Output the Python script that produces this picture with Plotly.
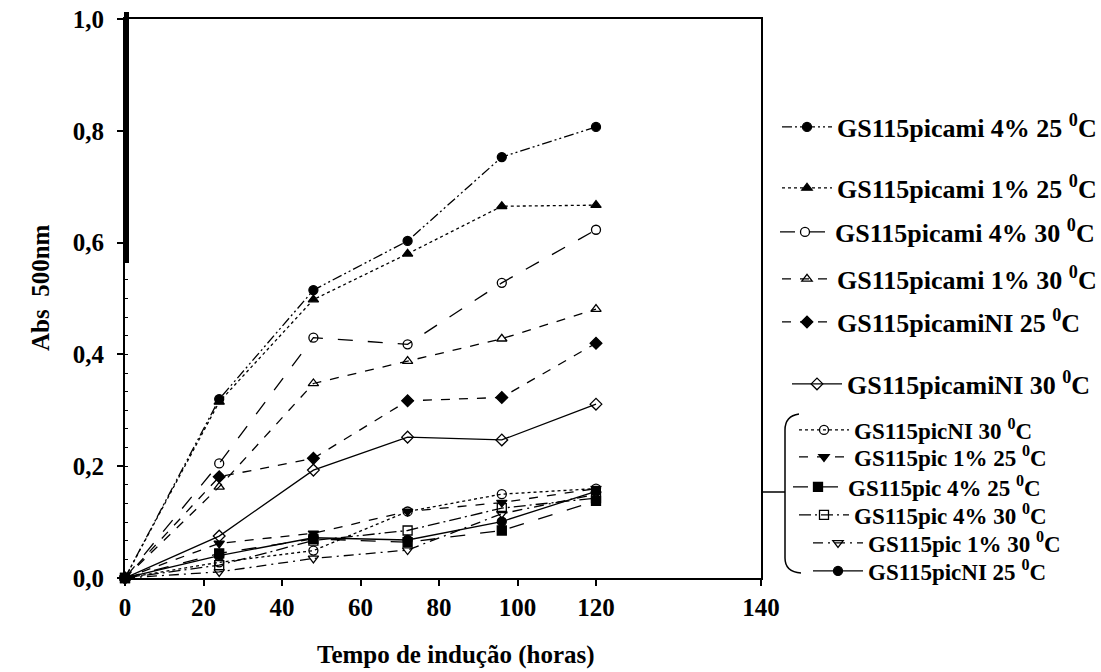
import plotly.graph_objects as go

# ---------------- data ----------------
hours = [0, 24, 48, 72, 96, 120]

picami_4_25 = [0, 0.320, 0.515, 0.603, 0.753, 0.807]
picami_1_25 = [0, 0.315, 0.498, 0.580, 0.665, 0.667]
picami_4_30 = [0, 0.205, 0.430, 0.418, 0.528, 0.623]
picami_1_30 = [0, 0.163, 0.348, 0.388, 0.428, 0.481]
picamiNI_25 = [0, 0.181, 0.214, 0.317, 0.323, 0.420]
picamiNI_30 = [0, 0.075, 0.193, 0.252, 0.247, 0.311]
picNI_30 = [0, 0.028, 0.049, 0.119, 0.150, 0.160]
pic_1_25 = [0, 0.062, 0.080, 0.119, 0.135, 0.160]
pic_4_25 = [0, 0.044, 0.070, 0.064, 0.085, 0.138]
pic_4_30 = [0, 0.023, 0.067, 0.085, 0.125, 0.143]
pic_1_30 = [0, 0.011, 0.035, 0.050, 0.115, 0.150]
picNI_25 = [0, 0.040, 0.072, 0.068, 0.101, 0.155]

names = [
    "GS115picami 4% 25 <sup>0</sup>C",
    "GS115picami 1% 25 <sup>0</sup>C",
    "GS115picami 4% 30 <sup>0</sup>C",
    "GS115picami 1% 30 <sup>0</sup>C",
    "GS115picamiNI 25 <sup>0</sup>C",
    "GS115picamiNI 30 <sup>0</sup>C",
    "GS115picNI 30 <sup>0</sup>C",
    "GS115pic 1% 25 <sup>0</sup>C",
    "GS115pic 4% 25 <sup>0</sup>C",
    "GS115pic 4% 30 <sup>0</sup>C",
    "GS115pic 1% 30 <sup>0</sup>C",
    "GS115picNI 25 <sup>0</sup>C",
]
values = [picami_4_25, picami_1_25, picami_4_30, picami_1_30, picamiNI_25, picamiNI_30,
          picNI_30, pic_1_25, pic_4_25, pic_4_30, pic_1_30, picNI_25]

y_tickvals = [0, 0.2, 0.4, 0.6, 0.8, 1.0]
y_ticktext = ["0,0", "0,2", "0,4", "0,6", "0,8", "1,0"]
x_tickvals = [0, 20, 40, 60, 80, 100, 120]
x_ticktext = ["0", "20", "40", "60", "80", "100", "120"]

# ---------------- styles ----------------
symbols = ["circle", "triangle-up", "circle-open", "triangle-up-open", "diamond", "diamond-open",
           "circle-open", "triangle-down", "square", "square-open", "triangle-down-open", "circle"]
dashes = ["10px,3px,2px,3px,2px,3px", "dot", "longdash", "dash", "dash", "solid",
          "dot", "dash", "longdash", "12px,4px,2px,4px", "10px,5px,2px,5px", "solid"]

W, H = 1101, 672
L, R, T, B = 125, 340, 19, 94
PW, PH = W - L - R, H - T - B
XMAX = 120 + (761 - 596) / ((596 - 125) / 120)


def px(xp):
    return (xp - L) / PW


def py(yp):
    return (H - B - yp) / PH


# legend rows: (pixel y of row centre, pixel x of legend box, font size)
legend_rows = [(127, 777, 26), (188, 777, 26), (232, 775, 26), (279, 777, 26), (322, 777, 26),
               (384, 787, 26), (430, 794, 23), (457, 794, 23), (487, 788, 23), (515, 794, 23),
               (543, 808, 23), (571, 808, 23)]

FONT = "Liberation Serif"

fig = go.Figure()
for i, (nm, vals) in enumerate(zip(names, values)):
    lg = "legend" if i == 0 else f"legend{i + 1}"
    fig.add_trace(go.Scatter(
        x=hours, y=vals, name=nm, mode="lines+markers",
        line=dict(color="black", width=1.3, dash=dashes[i]),
        marker=dict(symbol=symbols[i], size=9, color="black",
                    line=dict(color="black", width=1.3)),
        cliponaxis=False, legend=lg, showlegend=True,
    ))

layout_legends = {}
for i, (yy, xx, fs) in enumerate(legend_rows):
    key = "legend" if i == 0 else f"legend{i + 1}"
    layout_legends[key] = dict(
        x=px(xx), y=py(yy), xanchor="left", yanchor="middle",
        bgcolor="rgba(0,0,0,0)", borderwidth=0, itemwidth=50,
        font=dict(family=FONT, size=fs, color="black", weight="bold"),
        itemclick=False, itemdoubleclick=False,
    )

# bracket grouping the lower legend entries, and the connector to the plot
xb = 785
bracket = (f"M {px(799)},{py(414)} Q {px(xb)},{py(416)} {px(xb)},{py(430)} "
           f"L {px(xb)},{py(558)} Q {px(xb)},{py(572)} {px(801)},{py(573)}")

shapes = [
    dict(type="path", xref="paper", yref="paper", path=bracket,
         line=dict(color="black", width=1.5)),
    dict(type="line", xref="paper", yref="paper", x0=px(761), x1=px(xb), y0=py(492), y1=py(492),
         line=dict(color="black", width=1.5)),
    # thick upper part of the y-axis line
    dict(type="line", xref="paper", yref="paper", x0=px(126.5), x1=px(126.5), y0=py(263), y1=py(12),
         line=dict(color="black", width=5)),
]

annotations = [
    dict(text="Tempo de indução (horas)", xref="paper", yref="paper", x=px(456), y=py(655),
         xanchor="center", yanchor="middle", showarrow=False,
         font=dict(family=FONT, size=25, color="black", weight="bold")),
    dict(text="Abs  500nm", xref="paper", yref="paper", x=px(40), y=py(288), textangle=-90,
         xanchor="center", yanchor="middle", showarrow=False,
         font=dict(family=FONT, size=25, color="black", weight="bold")),
]

fig.update_layout(
    width=W, height=H,
    margin=dict(l=L, r=R, t=T, b=B, autoexpand=False),
    paper_bgcolor="white", plot_bgcolor="white",
    font=dict(family=FONT, color="black"),
    showlegend=True,
    shapes=shapes, annotations=annotations,
    **layout_legends,
)

fig.update_xaxes(
    range=[0, XMAX], tickvals=x_tickvals + [XMAX], ticktext=x_ticktext + ["140"],
    showgrid=False, zeroline=False, showline=True, linecolor="black", linewidth=1.5,
    mirror=True, ticks="outside", ticklen=6, tickwidth=1.5, tickcolor="black",
    tickfont=dict(family=FONT, size=25, color="black", weight="bold"),
)
fig.update_yaxes(
    range=[0, 1.0], tickvals=y_tickvals, ticktext=y_ticktext,
    showgrid=False, zeroline=False, showline=True, linecolor="black", linewidth=2,
    mirror=True, ticks="outside", ticklen=6, tickwidth=1.5, tickcolor="black",
    ticklabelstandoff=8,
    minor=dict(ticks="inside", dtick=1 / 30, ticklen=3, tickwidth=1, tickcolor="black"),
    tickfont=dict(family=FONT, size=25, color="black", weight="bold"),
)

fig.write_html("out.html")
